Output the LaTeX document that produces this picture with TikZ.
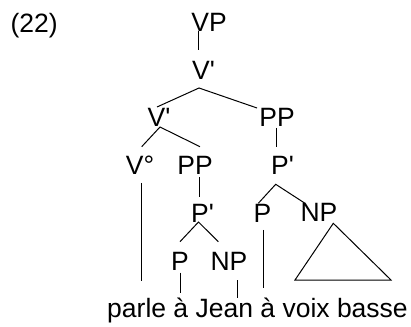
\documentclass[tikz,border=0pt]{standalone}
\usepackage{fontspec}
\newfontfamily\treefont{Liberation Sans}
\tikzset{lbl/.style={font=\treefont\fontsize{26.5}{31}\selectfont, inner sep=0pt, anchor=base}}

\begin{document}
\begin{tikzpicture}[x=1pt,y=1pt,line width=1pt]
  \useasboundingbox (0,0) rectangle (411,326);
  \node[lbl] (ex) at (34.2,293) {(22)};
  \node[lbl] (VP) at (209,294.5) {VP};
  \node[lbl] (V1) at (203.5,246) {V'};
  \node[lbl] (V2) at (159,199) {V'};
  \node[lbl] (PP1) at (277,199) {PP};
  \node[lbl] (Vo) at (140,151) {V°};
  \node[lbl] (PP2) at (195,151) {PP};
  \node[lbl] (Pb1) at (282.5,151) {P'};
  \node[lbl] (Pb2) at (202.5,103) {P'};
  \node[lbl] (Pr) at (262.5,103) {P};
  \node[lbl] (NPr) at (319,104) {NP};
  \node[lbl] (Pl) at (180,56) {P};
  \node[lbl] (NPl) at (229,56) {NP};
  \node[lbl] (S) at (257.5,8.5) {parle à Jean à voix basse};
  % branches
  \draw ([shift={(-10.5,0.5)}]VP.base) -- ([shift={(-5,30)}]V1.base);
  \draw ([shift={(-20,19)}]PP1.base) -- ([shift={(-4.5,-8)}]V1.base) -- ([shift={(-2,20)}]V2.base);
  \draw ([shift={(-1,-1)}]PP1.base) -- ([shift={(-6.5,28.3)}]Pb1.base);
  \draw ([shift={(1.7,28.3)}]Vo.base) -- ([shift={(1,0)}]V2.base) -- ([shift={(5,28.3)}]PP2.base);
  \draw ([shift={(4,-2)}]PP2.base) -- ([shift={(-3.5,26)}]Pb2.base);
  \draw ([shift={(0,28.3)}]Pl.base) -- ([shift={(-4,1)}]Pb2.base) -- ([shift={(-10.7,28.3)}]NPl.base);
  \draw ([shift={(-4.2,19.7)}]Pr.base) -- ([shift={(-6.8,-9.3)}]Pb1.base) -- ([shift={(-14,18.7)}]NPr.base);
  % down to the words
  \draw ([shift={(1.7,-8)}]Vo.base) -- ([shift={(-115.8,36.5)}]S.base);
  \draw ([shift={(0,-2.7)}]Pl.base) -- ([shift={(-77.5,24.8)}]S.base);
  \draw ([shift={(8.3,-10)}]NPl.base) -- ([shift={(-20.2,19.2)}]S.base);
  \draw ([shift={(0.8,-7)}]Pr.base) -- ([shift={(5.8,29.2)}]S.base);
  \draw ([shift={(14.3,-1.3)}]NPr.base) -- ([shift={(37.5,37.5)}]S.base) -- ([shift={(133.5,37.5)}]S.base) -- cycle;
\end{tikzpicture}
\end{document}
